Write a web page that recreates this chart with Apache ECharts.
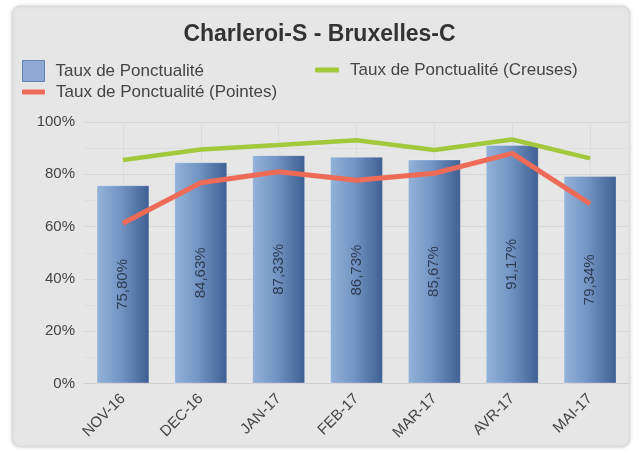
<!DOCTYPE html>
<html>
<head>
<meta charset="utf-8">
<script src="https://cdn.jsdelivr.net/npm/echarts@6/dist/echarts.min.js"></script>
<style>
  html, body { margin: 0; padding: 0; background: #fff; }
  #chart { width: 639px; height: 453px; }
</style>
</head>
<body>
<div id="chart"></div>
<script>
// mois
const months = ['NOV-16', 'DEC-16', 'JAN-17', 'FEB-17', 'MAR-17', 'AVR-17', 'MAI-17'];
// taux global (barres)
const tauxGlobal = [75.80, 84.63, 87.33, 86.73, 85.67, 91.17, 79.34];
// heures creuses / heures de pointe (lignes)
const tauxCreuses = [85.5, 89.5, 91.2, 93.0, 89.3, 93.3, 86.1];
const tauxPointes = [61.3, 76.8, 81.0, 77.7, 80.4, 88.0, 68.7];
const yTicks = [0, 20, 40, 60, 80, 100];

const FONT = '"Liberation Sans", Arial, sans-serif';
const fmt = v => v.toFixed(2).replace('.', ',') + '%';

const chart = echarts.init(document.getElementById('chart'));
chart.setOption({
    animation: false,
    backgroundColor: '#ffffff',
    graphic: [{
        type: 'rect',
        z: -10,
        shape: { x: 12, y: 6, width: 618, height: 441, r: 8 },
        style: {
            fill: '#e6e6e6',
            stroke: '#dadada',
            lineWidth: 1,
            shadowBlur: 4,
            shadowColor: 'rgba(0,0,0,0.12)'
        }
    }],
    title: {
        text: 'Charleroi-S - Bruxelles-C',
        left: 'center',
        top: 18,
        textStyle: { fontFamily: FONT, fontSize: 23, fontWeight: 'bold', color: '#333' }
    },
    legend: [
        {
            data: [{ name: 'Taux de Ponctualité', itemStyle: { color: '#8eaad2', borderColor: '#6282b0', borderWidth: 1 } }],
            left: 22, top: 60, padding: 0,
            icon: 'rect', itemWidth: 22, itemHeight: 21,
            textStyle: { fontFamily: FONT, fontSize: 17, color: '#444', padding: [0, 0, 0, 6] }
        },
        {
            data: ['Taux de Ponctualité (Creuses)'],
            left: 315, top: 60, padding: 0,
            icon: 'roundRect', itemWidth: 24, itemHeight: 5,
            textStyle: { fontFamily: FONT, fontSize: 17, color: '#444', lineHeight: 20, padding: [0, 0, 0, 6] }
        },
        {
            data: ['Taux de Ponctualité (Pointes)'],
            left: 22, top: 82, padding: 0,
            icon: 'roundRect', itemWidth: 23, itemHeight: 5,
            textStyle: { fontFamily: FONT, fontSize: 17, color: '#444', lineHeight: 20, padding: [0, 0, 0, 6] }
        }
    ],
    grid: { left: 84, right: 10, top: 122, bottom: 69.5 },
    xAxis: {
        type: 'category',
        data: months,
        axisLine: { show: true, lineStyle: { color: '#cfcfcf' } },
        axisTick: { show: false },
        splitLine: { show: true, alignWithLabel: true, lineStyle: { color: '#dcdcdc' } },
        axisLabel: {
            rotate: 45, interval: 0, margin: 13,
            fontFamily: FONT, fontSize: 15, color: '#444'
        }
    },
    yAxis: {
        type: 'value',
        min: yTicks[0], max: yTicks[yTicks.length - 1], interval: 20,
        axisLine: { show: false },
        axisTick: { show: false },
        axisLabel: { formatter: '{value}%', margin: 9, fontFamily: FONT, fontSize: 15, color: '#444' },
        splitLine: { lineStyle: { color: '#d6d6d6' } },
        minorTick: { show: false, splitNumber: 2 },
        minorSplitLine: { show: true, lineStyle: { color: '#dedede' } }
    },
    series: [
        {
            name: 'Taux de Ponctualité',
            type: 'bar',
            data: tauxGlobal,
            barWidth: '68%',
            itemStyle: {
                color: new echarts.graphic.LinearGradient(0, 0, 1, 0, [
                    { offset: 0, color: '#94b3d9' },
                    { offset: 0.45, color: '#7295c4' },
                    { offset: 1, color: '#3e5f92' }
                ]),
                borderColor: 'rgba(255,255,255,0.25)',
                borderWidth: 1
            },
            label: {
                show: true,
                position: 'inside',
                rotate: 90,
                formatter: p => fmt(p.value),
                fontFamily: FONT, fontSize: 15, color: '#2f3d52'
            }
        },
        {
            name: 'Taux de Ponctualité (Creuses)',
            type: 'line',
            data: tauxCreuses,
            symbol: 'none',
            z: 3,
            lineStyle: { color: '#a3c83c', width: 4.5 },
            itemStyle: { color: '#a3c83c' }
        },
        {
            name: 'Taux de Ponctualité (Pointes)',
            type: 'line',
            data: tauxPointes,
            symbol: 'none',
            z: 4,
            lineStyle: { color: '#ee6b58', width: 5 },
            itemStyle: { color: '#ee6b58' }
        }
    ]
});
</script>
</body>
</html>
